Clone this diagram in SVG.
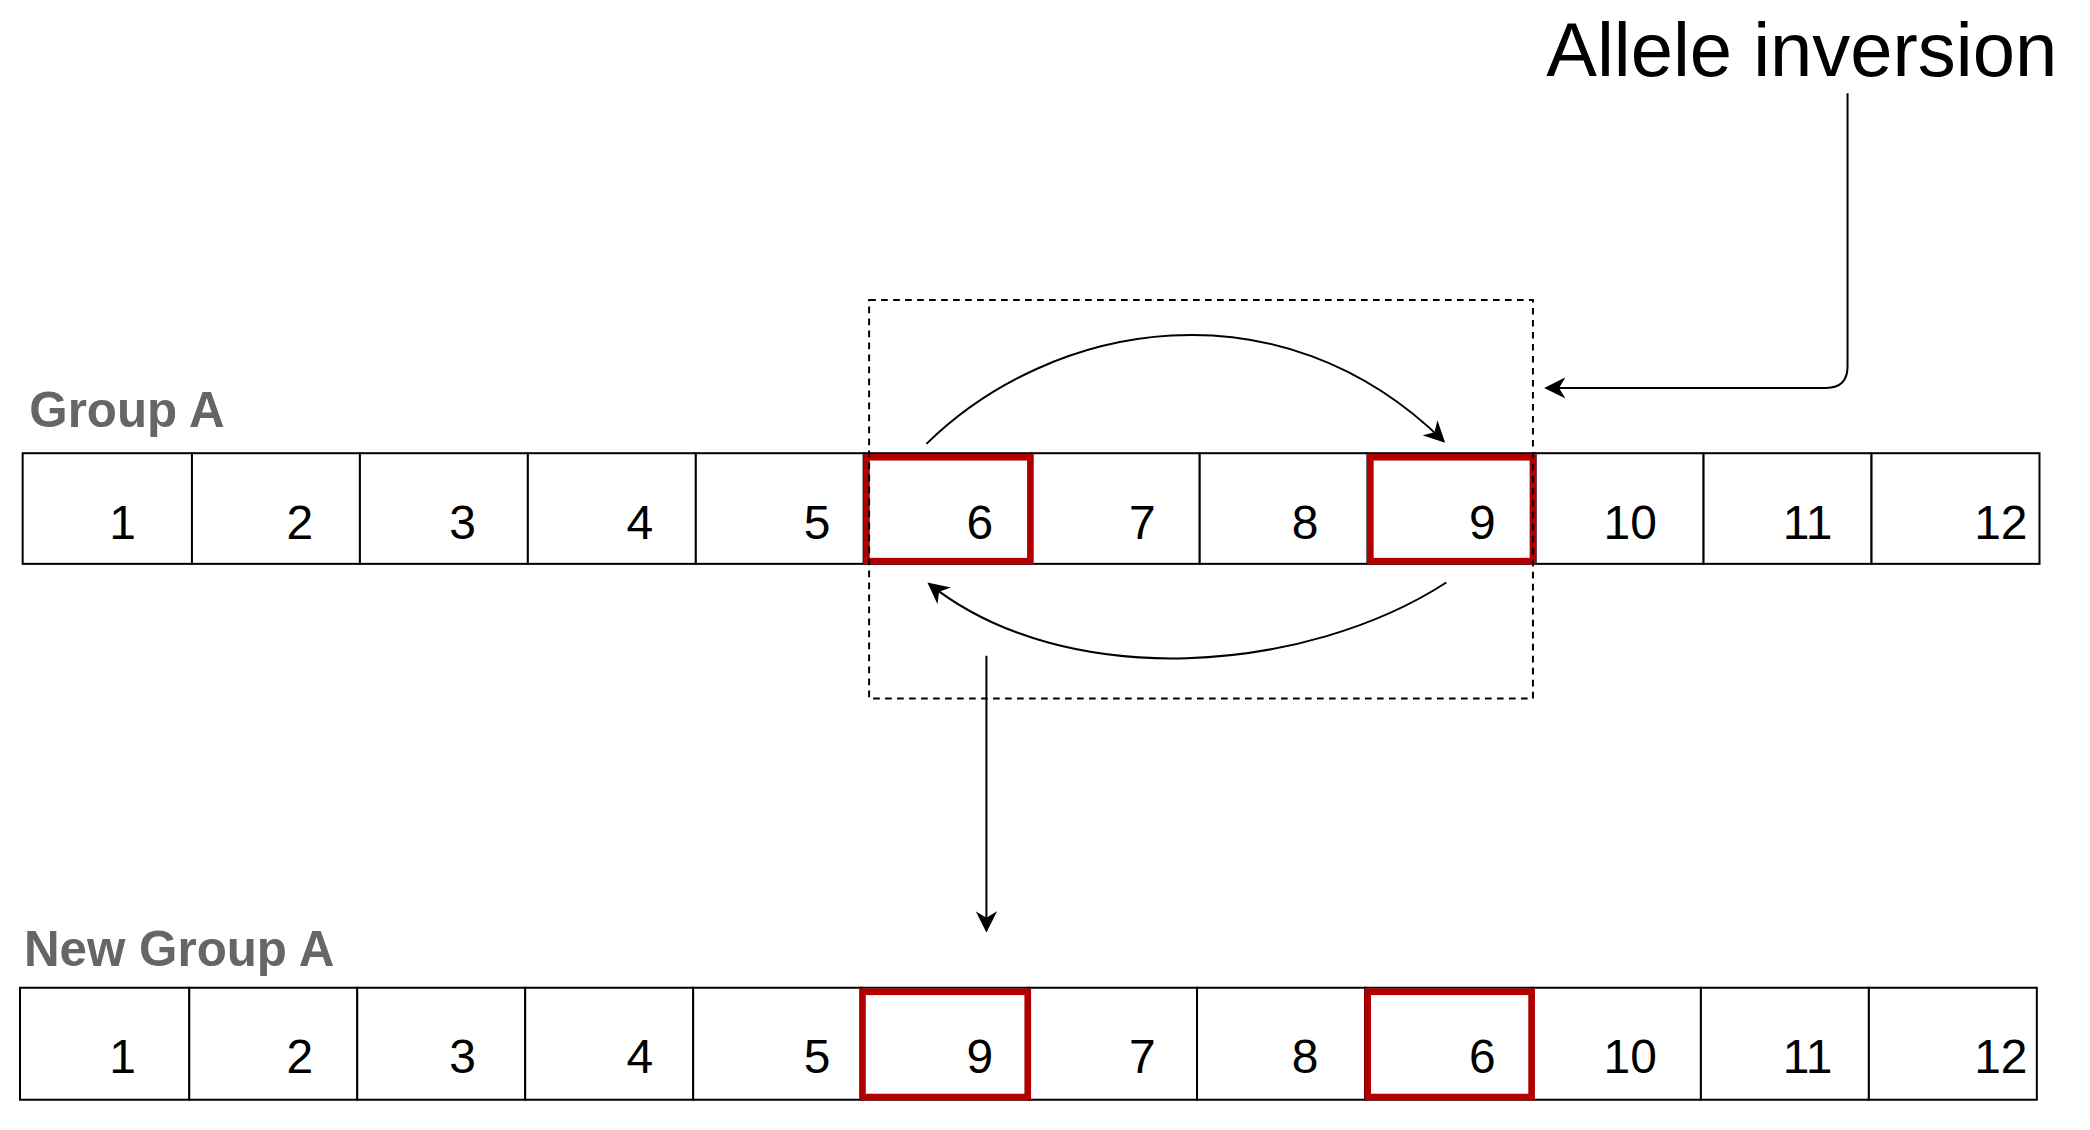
<svg xmlns="http://www.w3.org/2000/svg" width="2090" height="1130" viewBox="0 0 2090 1130">
<style>
.c{fill:#fff;stroke:#000;stroke-width:1.5}
.r{fill:none;stroke:#b20000;stroke-width:5}
.n{font-family:"Liberation Sans",Arial,sans-serif;font-size:36px;fill:#000;text-anchor:middle}
.l{font-family:"Liberation Sans",Arial,sans-serif;font-size:37px;font-weight:bold;fill:#666}
.e{fill:none;stroke:#000;stroke-width:1.5}
</style>
<defs><marker id="a" viewBox="0 0 10 10" refX="9" refY="5" markerWidth="16" markerHeight="16" markerUnits="userSpaceOnUse" orient="auto"><path d="M0,0L10,5L0,10L3,5Z" fill="#000"/></marker></defs>
<rect width="2090" height="1130" fill="#fff"/>
<g transform="scale(1.333)">
<text x="1160" y="57" font-family="Liberation Sans,Arial,sans-serif" font-size="57">Allele inversion</text>
<g id="groupA">
<text class="l" x="22" y="320">Group A</text>
<rect class="c" x="17" y="340" width="127" height="83"/><rect class="c" x="144" y="340" width="126" height="83"/><rect class="c" x="270" y="340" width="126" height="83"/><rect class="c" x="396" y="340" width="126" height="83"/><rect class="c" x="522" y="340" width="126" height="83"/><rect class="c" x="648" y="340" width="126" height="83"/><rect class="c" x="774" y="340" width="126" height="83"/><rect class="c" x="900" y="340" width="126" height="83"/><rect class="c" x="1026" y="340" width="126" height="83"/><rect class="c" x="1152" y="340" width="126" height="83"/><rect class="c" x="1278" y="340" width="126" height="83"/><rect class="c" x="1404" y="340" width="126" height="83"/>
<rect class="r" x="650" y="343" width="123" height="78"/><rect class="r" x="1028" y="343" width="122" height="78"/>
<text class="n" x="92" y="404">1</text><text class="n" x="225" y="404">2</text><text class="n" x="347" y="404">3</text><text class="n" x="480" y="404">4</text><text class="n" x="613" y="404">5</text><text class="n" x="735" y="404">6</text><text class="n" x="857" y="404">7</text><text class="n" x="979" y="404">8</text><text class="n" x="1112" y="404">9</text><text class="n" x="1223" y="404">10</text><text class="n" x="1356" y="404">11</text><text class="n" x="1501" y="404">12</text>
</g>
<g id="newGroupA">
<text class="l" x="18" y="725">New Group A</text>
<rect class="c" x="15" y="741" width="127" height="84"/><rect class="c" x="142" y="741" width="126" height="84"/><rect class="c" x="268" y="741" width="126" height="84"/><rect class="c" x="394" y="741" width="126" height="84"/><rect class="c" x="520" y="741" width="126" height="84"/><rect class="c" x="646" y="741" width="126" height="84"/><rect class="c" x="772" y="741" width="126" height="84"/><rect class="c" x="898" y="741" width="126" height="84"/><rect class="c" x="1024" y="741" width="126" height="84"/><rect class="c" x="1150" y="741" width="126" height="84"/><rect class="c" x="1276" y="741" width="126" height="84"/><rect class="c" x="1402" y="741" width="126" height="84"/>
<rect class="r" x="647" y="744" width="124" height="79"/><rect class="r" x="1026" y="744" width="123" height="79"/>
<text class="n" x="92" y="805">1</text><text class="n" x="225" y="805">2</text><text class="n" x="347" y="805">3</text><text class="n" x="480" y="805">4</text><text class="n" x="613" y="805">5</text><text class="n" x="735" y="805">9</text><text class="n" x="857" y="805">7</text><text class="n" x="979" y="805">8</text><text class="n" x="1112" y="805">6</text><text class="n" x="1223" y="805">10</text><text class="n" x="1356" y="805">11</text><text class="n" x="1501" y="805">12</text>
</g>
<g id="connectors">
<rect x="652" y="225" width="498" height="299" fill="none" stroke="#000" stroke-width="1.5" stroke-dasharray="5,4"/>
<path class="e" d="M695,333C790,240 960,210 1083,331" marker-end="url(#a)"/>
<path class="e" d="M1085,437C980,505 800,520 697,438" marker-end="url(#a)"/>
<path class="e" d="M740,492V698" marker-end="url(#a)"/>
<path class="e" d="M1386,70V275Q1386,291 1370,291H1160" marker-end="url(#a)"/>
</g>
</g>
</svg>
